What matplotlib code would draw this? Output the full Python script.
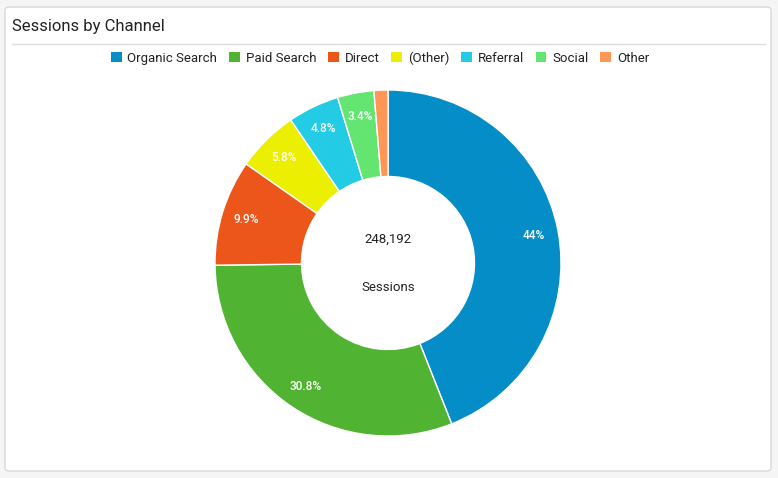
import matplotlib.pyplot as plt
from matplotlib.patches import FancyBboxPatch, Rectangle

channels = ["Organic Search", "Paid Search", "Direct", "(Other)", "Referral", "Social", "Other"]
shares = [44.0, 30.8, 9.9, 5.8, 4.8, 3.4, 1.3]
share_labels = ["44%", "30.8%", "9.9%", "5.8%", "4.8%", "3.4%", ""]
colors = ["#058dc7", "#50b432", "#ed561b", "#edef00", "#24cbe5", "#64e572", "#ff9655"]
total_sessions = "248,192"

plt.rcParams['font.family'] = ['Roboto', 'DejaVu Sans']

W, H = 778, 478
fig = plt.figure(figsize=(W / 100, H / 100), dpi=100)
fig.patch.set_facecolor("#f5f5f5")

def fx(px):
    return px / W

def fy(py):
    return 1 - py / H

# card
card = FancyBboxPatch((fx(5), fy(471)), fx(771) - fx(5), fy(7) - fy(471),
                      boxstyle="round,pad=0,rounding_size=0.006",
                      transform=fig.transFigure, facecolor="white",
                      edgecolor="#d9d9d9", linewidth=1, zorder=-1)
fig.patches.append(card)

fig.text(fx(12), fy(26.5), "Sessions by Channel", fontsize=12, color="#222222",
         va="center", ha="left")
fig.add_artist(plt.Line2D([fx(12), fx(765)], [fy(43.5), fy(43.5)],
                          transform=fig.transFigure, color="#dddddd", linewidth=1))

# pie
cx, cy, r = 388, 263, 173
ax = fig.add_axes([fx(cx - r), fy(cy + r), 2 * r / W, 2 * r / H])
ax.set_zorder(2)
wedges, texts = ax.pie(shares, colors=colors, labels=share_labels, startangle=90,
                       counterclock=False, radius=1, labeldistance=0.86,
                       wedgeprops=dict(width=0.5, edgecolor="white", linewidth=1),
                       textprops=dict(color="white", fontsize=8.5, fontweight="medium"))
for t in texts:
    t.set_ha("center")
    t.set_va("center")
ax.set_aspect("equal")
ax.set_xlim(-1, 1)
ax.set_ylim(-1, 1)

ax.text(0, 0.14, total_sessions, ha="center", va="center", fontsize=9.5, color="#222222")
ax.text(0, -0.14, "Sessions", ha="center", va="center", fontsize=9.5, color="#222222")

# legend
handles = [Rectangle((0, 0), 1, 1, facecolor=c, edgecolor="none") for c in colors]
fig.legend(handles, channels, loc="center", bbox_to_anchor=(fx(380), fy(58)),
           ncol=len(channels), frameon=False, fontsize=9.5, handlelength=0.8,
           handleheight=0.8, handletextpad=0.45, columnspacing=0.9,
           labelcolor="#222222")

plt.savefig("out.png", dpi=100, facecolor=fig.get_facecolor())
